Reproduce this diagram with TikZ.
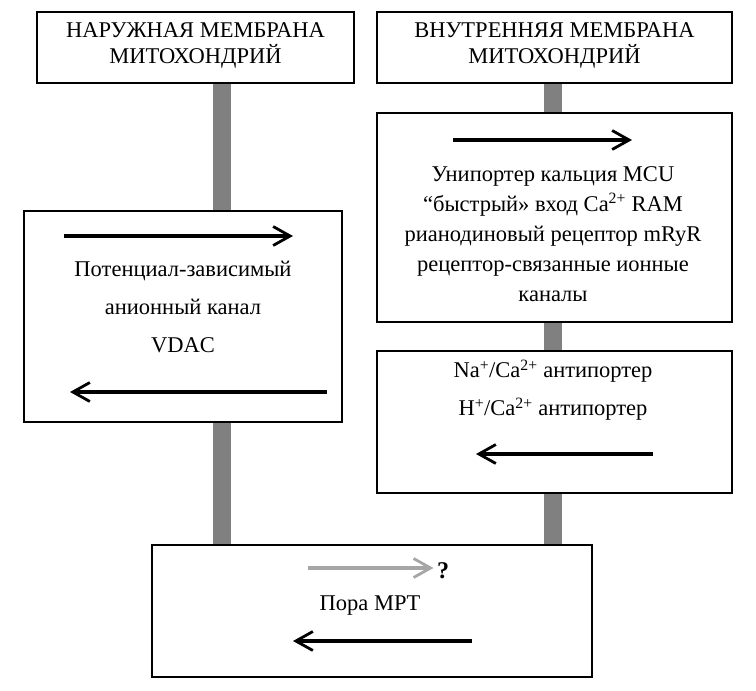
\documentclass[tikz,border=0pt]{standalone}
\usepackage{fontspec}
\setmainfont{Liberation Serif}
\usetikzlibrary{arrows.meta}
\tikzset{box/.style = {draw, line width=1.2pt, fill=white, inner sep=0pt},
         bar/.style = {line width=18pt, draw={rgb,255:red,128;green,128;blue,128}},
         flow/.style = {line width=3.3pt,
                        -{Straight Barb[length=17pt, width=19pt, line width=2.8pt]}}}
\definecolor{lgray}{rgb}{0.65, 0.65, 0.65}

\begin{document}
\begin{tikzpicture}[x=1pt, y=-1pt, font=\fontsize{22.5}{26}\selectfont]
      \useasboundingbox (0, 0) rectangle (756, 691);

      \node [box, minimum width=317, minimum height=71] (hdOuter) at (195.5, 47.5) {};
      \node [box, minimum width=355, minimum height=71] (hdInner) at (554.5, 47.5) {};
      \node [box, minimum width=318, minimum height=211] (vdac) at (183, 316.5) {};
      \node [box, minimum width=355, minimum height=209] (mcu) at (554.5, 217.5) {};
      \node [box, minimum width=355, minimum height=142] (anti) at (554.5, 422) {};
      \node [box, minimum width=440, minimum height=132] (mpt) at (372, 611) {};

      \coordinate (barL) at (222, 0);
      \coordinate (barR) at (553, 0);
      \draw [bar] (hdOuter.south -| barL) -- (vdac.north -| barL);
      \draw [bar] (vdac.south -| barL) -- (mpt.north -| barL);
      \draw [bar] (hdInner.south -| barR) -- (mcu.north -| barR);
      \draw [bar] (mcu.south -| barR) -- (anti.north -| barR);
      \draw [bar] (anti.south -| barR) -- (mpt.north -| barR);

      \node [align=center] (tOuter) at (195.5, 45) {НАРУЖНАЯ МЕМБРАНА\\МИТОХОНДРИЙ};
      \node [align=center] (tInner) at (554.5, 45) {ВНУТРЕННЯЯ МЕМБРАНА\\МИТОХОНДРИЙ};

      \node [align=center, font=\fontsize{22.5}{38}\selectfont] (tVdac) at (183, 307)
            {Потенциал-зависимый\\анионный канал\\VDAC};
      \node [align=center, font=\fontsize{22.5}{30}\selectfont] (tMcu) at (553, 234)
            {Унипортер кальция MCU\\“быстрый» вход Ca\textsuperscript{2+} RAM\\
             рианодиновый рецептор mRyR\\рецептор-связанные ионные\\каналы};
      \node [align=center, font=\fontsize{22.5}{38}\selectfont] (tAnti) at (553, 390)
            {Na\textsuperscript{+}/Ca\textsuperscript{2+} антипортер\\
             H\textsuperscript{+}/Ca\textsuperscript{2+} антипортер};
      \node (tMpt) at (370, 606) {Пора MPT};
      \node [font=\fontsize{24}{26}\selectfont\bfseries] (quest) at (443, 571) {?};

      \coordinate (vdacInA) at (64, 236);
      \coordinate (vdacInB) at (293, 236);
      \coordinate (vdacOutA) at (327, 392);
      \coordinate (vdacOutB) at (70, 392);
      \coordinate (mcuA) at (453, 140);
      \coordinate (mcuB) at (632, 140);
      \coordinate (antiA) at (653, 454);
      \coordinate (antiB) at (476, 454);
      \coordinate (mptInA) at (308, 568);
      \coordinate (mptOutA) at (472, 641);
      \coordinate (mptOutB) at (293, 641);

      \draw [flow] (vdacInA) -- (vdacInB);
      \draw [flow] (vdacOutA) -- (vdacOutB);
      \draw [flow] (mcuA) -- (mcuB);
      \draw [flow] (antiA) -- (antiB);
      \draw [flow, lgray] (mptInA) -- (mptInA -| quest.west);
      \draw [flow] (mptOutA) -- (mptOutB);
    \end{tikzpicture}
\end{document}
